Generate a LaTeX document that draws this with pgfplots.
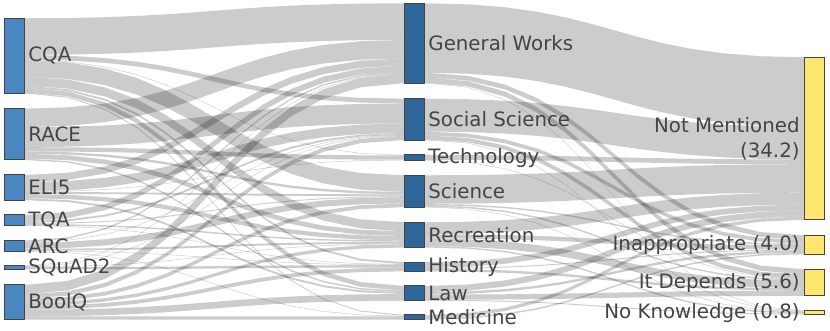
\documentclass[border=0pt]{standalone}
\usepackage{pgfplots}
\pgfplotsset{compat=1.18}
\usepackage{pgfplotstable}
\usepackage{fontspec}
\setmainfont{DejaVu Sans}

\definecolor{nodeL}{HTML}{4A86C0}
\definecolor{nodeM}{HTML}{2E6699}
\definecolor{nodeR}{HTML}{FFE66E}
\definecolor{edgec}{HTML}{444444}
\definecolor{txt}{HTML}{444444}

\tikzset{lab/.style={font=\fontsize{9.9}{12.5}\selectfont, text=txt, inner sep=0pt}}

% ribbon outline (unit box): top edge left->right, bottom edge back
\pgfplotstableread{
u v s
0 0 0
0.11516 0.019676 0
0.21296 0.074074 0
0.296875 0.15625 0
0.37037 0.259259 0
0.436921 0.376157 0
0.5 0.5 0
0.563079 0.623843 0
0.62963 0.740741 0
0.703125 0.84375 0
0.78704 0.925926 0
0.88484 0.980324 0
1 1 0
1 1 1
0.88484 0.980324 1
0.78704 0.925926 1
0.703125 0.84375 1
0.62963 0.740741 1
0.563079 0.623843 1
0.5 0.5 1
0.436921 0.376157 1
0.37037 0.259259 1
0.296875 0.15625 1
0.21296 0.074074 1
0.11516 0.019676 1
0 0 1
}\ribbon

\pgfplotstableread{
u v
0 0
1 0
1 1
0 1
0 0
}\nodebox

% px per unit
\def\k{4.75}
% nodes: CQA RACE ELI5 TQA ARC SQuAD2 BoolQ
\def\Lval{{15.8,10.8,5.3,2.3,2.3,0.8,7.3}}
\def\Ltop{{18.3,108.7,175,215,240.7,265.7,285}}
% General Works, Social Science, Technology, Science, Recreation, History, Law, Medicine
\def\Mval{{16.8,8.7,1.1,6.7,5.3,1.9,3.1,1.0}}
\def\Mtop{{3.3,98.7,155,175.3,222.3,262.3,286,315}}
% Not Mentioned, Inappropriate, It Depends, No Knowledge
\def\Rval{{34.2,4.0,5.6,0.8}}
\def\Rtop{{57.3,235.3,269.3,310.7}}

% dataset -> category (rows: datasets)
\def\LM{{7.7,1.0,0.1,3.5,1.9,0.4,1.0,0.2,
3.9,4.2,0.9,0.5,1.0,0,0.3,0,
1.5,2.0,0.1,0.4,0.9,0,0.4,0,
1.3,0.4,0,0.2,0.3,0.1,0,0,
0.3,0.1,0,1.3,0.4,0.1,0,0.1,
0.1,0.1,0,0,0.1,0.5,0,0,
2.0,0.9,0,0.8,0.7,0.8,1.4,0.7}}
% category -> answer (rows: categories)
\def\MR{{14.6,1.0,1.1,0.1,
6.9,0.8,0.9,0.1,
1.0,0,0.1,0,
6.0,0.3,0.3,0.1,
2.5,0.9,1.6,0.3,
1.2,0.2,0.5,0,
1.3,0.5,1.1,0.2,
0.7,0.3,0,0}}

\pgfplotsset{flow/.style={draw=none, fill=black, fill opacity=0.2, forget plot}}

\def\alllinks{}
% left -> middle
\foreach \j in {0,...,7}{\expandafter\xdef\csname tin\j\endcsname{0}}
\foreach \i in {0,...,6}{
  \xdef\soff{0}
  \foreach \j in {0,...,7}{
    \pgfmathtruncatemacro\idx{\i*8+\j}
    \pgfmathsetmacro\val{\LM[\idx]}
    \ifdim\val pt>0pt
      \edef\tinj{\csname tin\j\endcsname}
      \pgfmathsetmacro\ya{\Ltop[\i]+\k*\soff}
      \pgfmathsetmacro\yb{\Mtop[\j]+\k*\tinj}
      \pgfmathsetmacro\ww{\k*\val}
      \xdef\alllinks{\unexpanded\expandafter{\alllinks}\noexpand\addplot[flow] table[x expr={24.3+\noexpand\thisrow{u}*380}, y expr={\ya+\noexpand\thisrow{v}*(\yb-\ya)+\noexpand\thisrow{s}*\ww}]{\noexpand\ribbon};}
      \pgfmathsetmacro\tmpv{\soff+\val}\xdef\soff{\tmpv}
      \pgfmathsetmacro\tmpv{\tinj+\val}\expandafter\xdef\csname tin\j\endcsname{\tmpv}
    \fi
  }
}
% middle -> right
\foreach \j in {0,...,3}{\expandafter\xdef\csname rin\j\endcsname{0}}
\foreach \i in {0,...,7}{
  \xdef\soff{0}
  \foreach \j in {0,...,3}{
    \pgfmathtruncatemacro\idx{\i*4+\j}
    \pgfmathsetmacro\val{\MR[\idx]}
    \ifdim\val pt>0pt
      \edef\tinj{\csname rin\j\endcsname}
      \pgfmathsetmacro\ya{\Mtop[\i]+\k*\soff}
      \pgfmathsetmacro\yb{\Rtop[\j]+\k*\tinj}
      \pgfmathsetmacro\ww{\k*\val}
      \xdef\alllinks{\unexpanded\expandafter{\alllinks}\noexpand\addplot[flow] table[x expr={424.3+\noexpand\thisrow{u}*380}, y expr={\ya+\noexpand\thisrow{v}*(\yb-\ya)+\noexpand\thisrow{s}*\ww}]{\noexpand\ribbon};}
      \pgfmathsetmacro\tmpv{\soff+\val}\xdef\soff{\tmpv}
      \pgfmathsetmacro\tmpv{\tinj+\val}\expandafter\xdef\csname rin\j\endcsname{\tmpv}
    \fi
  }
}

\def\allnodes{}
\foreach \n/\x/\c/\tops/\vals in {7/4.3/nodeL/\Ltop/\Lval, 8/404.3/nodeM/\Mtop/\Mval, 4/804.3/nodeR/\Rtop/\Rval}{
  \pgfmathtruncatemacro\last{\n-1}
  \foreach \i in {0,...,\last}{
    \pgfmathsetmacro\ya{\tops[\i]}
    \pgfmathsetmacro\hh{\k*\vals[\i]}
    \xdef\allnodes{\unexpanded\expandafter{\allnodes}\noexpand\addplot[fill=\c, draw=edgec, line width=0.5pt, forget plot] table[x expr={\x+\noexpand\thisrow{u}*20}, y expr={\ya+\noexpand\thisrow{v}*\hh}]{\noexpand\nodebox};}
  }
}

\begin{document}
\begin{tikzpicture}
\useasboundingbox (0,0) rectangle (415pt,165.5pt);
\begin{axis}[
  at={(0,0)}, anchor=south west,
  x=0.5pt, y=0.5pt,
  xmin=0, xmax=830, ymin=0, ymax=331,
  y dir=reverse,
  hide axis,
  clip=false
]
\alllinks
\allnodes

% dataset labels
\node[lab, anchor=west] at (axis cs:28,55.8) {CQA};
\node[lab, anchor=west] at (axis cs:28,134.4) {RACE};
\node[lab, anchor=west] at (axis cs:28,187.6) {ELI5};
\node[lab, anchor=west] at (axis cs:28,220.5) {TQA};
\node[lab, anchor=west] at (axis cs:28,246.2) {ARC};
\node[lab, anchor=west] at (axis cs:28,267.6) {SQuAD2};
\node[lab, anchor=west] at (axis cs:28,302.3) {BoolQ};

% category labels
\node[lab, anchor=west] at (axis cs:428,43.2) {General Works};
\node[lab, anchor=west] at (axis cs:428,119.4) {Social Science};
\node[lab, anchor=west] at (axis cs:428,157.6) {Technology};
\node[lab, anchor=west] at (axis cs:428,191.2) {Science};
\node[lab, anchor=west] at (axis cs:428,234.9) {Recreation};
\node[lab, anchor=west] at (axis cs:428,266.8) {History};
\node[lab, anchor=west] at (axis cs:428,293.4) {Law};
\node[lab, anchor=west] at (axis cs:428,317.4) {Medicine};

% answer labels
\node[lab, anchor=east, align=right] at (axis cs:800,139) {Not Mentioned\\(34.2)};
\node[lab, anchor=east] at (axis cs:800,244.8) {Inappropriate (4.0)};
\node[lab, anchor=east] at (axis cs:800,282.6) {It Depends (5.6)};
\node[lab, anchor=east] at (axis cs:800,312.6) {No Knowledge (0.8)};
\end{axis}
\end{tikzpicture}
\end{document}
